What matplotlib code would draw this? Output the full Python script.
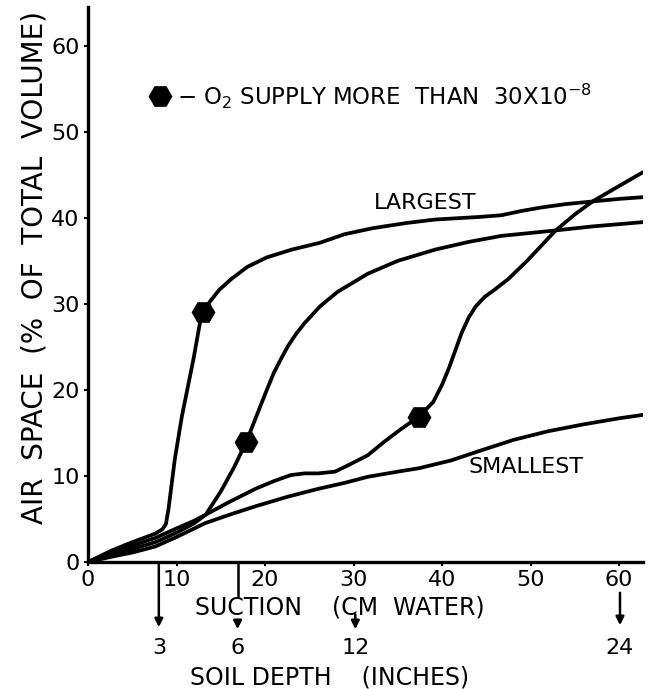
import matplotlib
matplotlib.use("Agg")
import matplotlib.pyplot as plt

# curve readings: suction (cm water) vs air space (% of total volume)
largest_x = [0, 2.6, 5.0, 7.6, 8.4, 8.8, 9.1, 9.8, 10.6, 11.9, 12.7, 13.0, 13.8,
             14.8, 16.2, 18.0, 20.2, 23.0, 26.2, 29.0, 32.2, 36.0, 39.2, 44.2,
             46.7, 49.0, 51.2, 54.0, 57.0, 60.0, 62.7]
largest_y = [0, 1.3, 2.3, 3.3, 3.8, 4.4, 6.2, 11.9, 16.9, 23.5, 28.1, 29.0, 30.3,
             31.6, 32.9, 34.3, 35.4, 36.3, 37.1, 38.1, 38.8, 39.4, 39.8, 40.1,
             40.3, 40.8, 41.2, 41.6, 41.9, 42.2, 42.4]

mid_x = [0, 2.6, 5.0, 7.6, 10.0, 12.0, 13.3, 15.0, 16.5, 17.9, 19.2, 20.2, 21.0,
         21.8, 22.6, 23.5, 24.5, 26.2, 28.2, 31.6, 35.0, 39.2, 43.0, 46.7, 52.5,
         57.0, 62.7]
mid_y = [0, 1.0, 1.9, 2.8, 3.9, 4.8, 5.5, 8.2, 11.0, 14.0, 17.4, 20.0, 22.0,
         23.6, 25.1, 26.5, 27.8, 29.7, 31.4, 33.5, 35.0, 36.3, 37.2, 37.9, 38.5,
         39.0, 39.5]

right_x = [0, 2.6, 5.0, 7.6, 10.0, 12.0, 13.3, 16.0, 18.9, 21.0, 22.9, 24.5, 26.0,
           27.9, 29.5, 31.6, 33.5, 35.3, 37.4, 39.0, 40.0, 40.8, 41.5, 42.2, 43.0,
           43.8, 44.8, 46.0, 47.5, 49.7, 52.8, 55.0, 57.0, 60.0, 62.7]
right_y = [0, 0.8, 1.5, 2.3, 3.4, 4.5, 5.5, 7.0, 8.5, 9.4, 10.1, 10.3, 10.3,
           10.5, 11.3, 12.4, 14.0, 15.4, 16.9, 18.6, 20.6, 22.6, 24.6, 26.6, 28.4,
           29.7, 30.8, 31.7, 32.9, 35.1, 38.5, 40.4, 41.9, 43.7, 45.3]

small_x = [0, 2.6, 5.0, 7.6, 10.0, 13.2, 16.0, 19.0, 22.6, 26.0, 29.0, 31.6, 35.0,
           37.4, 41.0, 44.5, 48.1, 52.0, 56.0, 60.0, 62.7]
small_y = [0, 0.6, 1.1, 1.8, 2.9, 4.5, 5.5, 6.5, 7.6, 8.5, 9.2, 9.9, 10.5,
           10.9, 11.8, 13.0, 14.2, 15.2, 16.0, 16.7, 17.1]

# points where O2 supply exceeds 30x10^-8
marker_x = [13.0, 17.9, 37.4]
marker_y = [29.0, 14.0, 16.9]

# soil depth (inches) reached at a given suction
depth_labels = ["3", "6", "12", "24"]
depth_suction = [8.0, 16.9, 30.2, 60.1]

x_ticks = [0, 10, 20, 30, 40, 50, 60]
y_ticks = [0, 10, 20, 30, 40, 50, 60]

W, H = 648, 689
AX_L, AX_R, AX_B, AX_T = 88, 643, 562, 7


def fx(px):
    return px / W


def fy(py):
    return 1 - py / H


def ay(py):
    # pixel row -> axes fraction
    return (AX_B - py) / (AX_B - AX_T)


plt.rcParams["font.family"] = ["DejaVu Sans"]
fig = plt.figure(figsize=(W / 100, H / 100), dpi=100)
ax = fig.add_axes([fx(AX_L), fy(AX_B), (AX_R - AX_L) / W, (AX_B - AX_T) / H])

line_kw = dict(color="black", lw=2.7, solid_capstyle="round", solid_joinstyle="round")
ax.plot(largest_x, largest_y, **line_kw)
ax.plot(mid_x, mid_y, **line_kw)
ax.plot(right_x, right_y, **line_kw)
ax.plot(small_x, small_y, **line_kw)
ax.plot(marker_x, marker_y, linestyle="none", marker="H", markersize=16,
        color="black", zorder=5)

ax.set_xlim(0, 62.7)
ax.set_ylim(0, 64.5)
ax.set_xticks(x_ticks)
ax.set_yticks(y_ticks)
ax.tick_params(labelsize=16, length=3, width=1.5, pad=3)
for side in ["top", "right"]:
    ax.spines[side].set_visible(False)
for side in ["left", "bottom"]:
    ax.spines[side].set_linewidth(2.4)

ax.text(38.1, 41.7, "LARGEST", fontsize=16, ha="center", va="center")
ax.text(49.5, 11.0, "SMALLEST", fontsize=16, ha="center", va="center")

# legend-like key
ax.plot([8.1], [54.1], linestyle="none", marker="H", markersize=16, color="black",
        clip_on=False)
ax.text(10.1, 54.1, r"$-$ O$_2$ SUPPLY MORE  THAN  30X10$^{-8}$", fontsize=16.5,
        ha="left", va="center")

# y label
fig.text(fx(35), fy(268), "AIR  SPACE  (%  OF  TOTAL  VOLUME)", fontsize=20,
         rotation=90, ha="center", va="center")

# depth arrows below the axis
xt = ax.get_xaxis_transform()
arrow_kw = dict(arrowstyle="-|>", lw=1.8, color="black", mutation_scale=12)
arrow_rows = [(AX_B, 630), (617, 632), (612, 632), (590, 628)]
for sx, (y0, y1) in zip(depth_suction, arrow_rows):
    ax.annotate("", xy=(sx, ay(y1)), xytext=(sx, ay(y0)), xycoords=xt,
                textcoords=xt, arrowprops=arrow_kw, annotation_clip=False)
ax.plot([depth_suction[1], depth_suction[1]], [0, ay(596)], transform=xt,
        color="black", lw=1.8, clip_on=False)

for sx, lab in zip(depth_suction, depth_labels):
    ax.text(sx, ay(648), lab, transform=xt, fontsize=16, ha="center", va="center")

fig.text(fx(340), fy(607), "SUCTION    (CM  WATER)", fontsize=17, ha="center",
         va="center")
fig.text(fx(330), fy(677), "SOIL DEPTH    (INCHES)", fontsize=17, ha="center",
         va="center")

fig.savefig("out.png", dpi=100)
